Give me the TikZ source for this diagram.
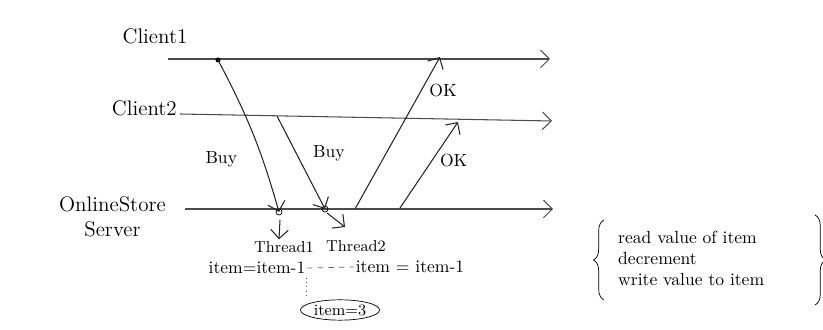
\documentclass[tikz,border=0pt]{standalone}
\usepackage{xcolor}
\usepackage{tikz}
\usetikzlibrary{arrows.meta, positioning, calc, decorations.pathreplacing, shapes.geometric}

\begin{document}
\begin{tikzpicture}[x=0.02cm, y=-0.02cm, >={Straight Barb[length=5pt]},
    lane/.style={draw=black!70, line width=0.6pt},
    msg/.style={draw=black!85, line width=0.6pt},
    lbl/.style={font=\large},
    small/.style={font=\small, inner sep=1pt}]

    \useasboundingbox (0,0) rectangle (823,330);

    % process lines
    \coordinate (c1s) at (168,59);  \coordinate (c1e) at (550,59);
    \coordinate (c2s) at (180,114); \coordinate (c2e) at (552,121);
    \coordinate (svs) at (185,209); \coordinate (sve) at (553,209);
    \node[lbl] (C1) at (155,36) {Client1};
    \node[lbl, anchor=east] (C2) at (183,108) {Client2};
    \node[lbl, anchor=east, align=center] (SV) at (172,217) {OnlineStore\\Server};

    % events
    \coordinate (b1) at (218,60);  \coordinate (b2) at (277,116);
    \coordinate (k1) at (440,57);  \coordinate (k2) at (458,122);
    \coordinate (s1) at (279,212); \coordinate (s2) at (325,209);
    \coordinate (s3) at (355,209); \coordinate (s4) at (400,208);

    \path[->]
    (c1s) edge[lane] (c1e)
    (c2s) edge[lane] (c2e)
    (svs) edge[lane] (sve);

    \fill (b1) circle (2.5);
    \draw (s1) circle (3);
    \draw (s2) circle (3);

    \path[->]
    (b1) edge[msg, bend left=6] node[pos=0.68, left=11pt] {Buy} (s1)
    (b2) edge[msg] node[pos=0.4, right=6pt] {Buy} (s2)
    (s3) edge[msg] node[pos=0.78, right=1pt] {OK} (k1)
    (s4) edge[msg] node[pos=0.55, right=1pt] {OK} (k2);

    % threads
    \node[small] (T1) at (284,247) {Thread1};
    \node[small] (T2) at (356,246) {Thread2};
    \draw[->, msg] ($(s1)+(1,8)$) -- (T1.north -| s1);
    \draw[->, msg] ($(s2)+(2,4)$) -- ($(s2)+(20,18)$);

    \node[small, font=\normalsize] (U1) at (257,268) {item=item-1};
    \node[small, font=\normalsize] (U2) at (410,267) {item = item-1};
    \draw[dashed, black!60] (U1.east) -- (U2.west);

    \node[ellipse, draw, inner sep=1pt, font=\small] (V) at (340,310) {item=3};
    \draw[dotted, black!70] (306,278) -- (306,297);

    % critical section
    \node[align=left, anchor=west, font=\normalsize] (CS) at (612,258)
        {read value of item\\decrement\\write value to item};
    \draw[decorate, decoration={brace, amplitude=6pt}] (604,300) -- (604,220);
    \draw[decorate, decoration={brace, amplitude=6pt}] (815,215) -- (815,305);

\end{tikzpicture}
\end{document}
